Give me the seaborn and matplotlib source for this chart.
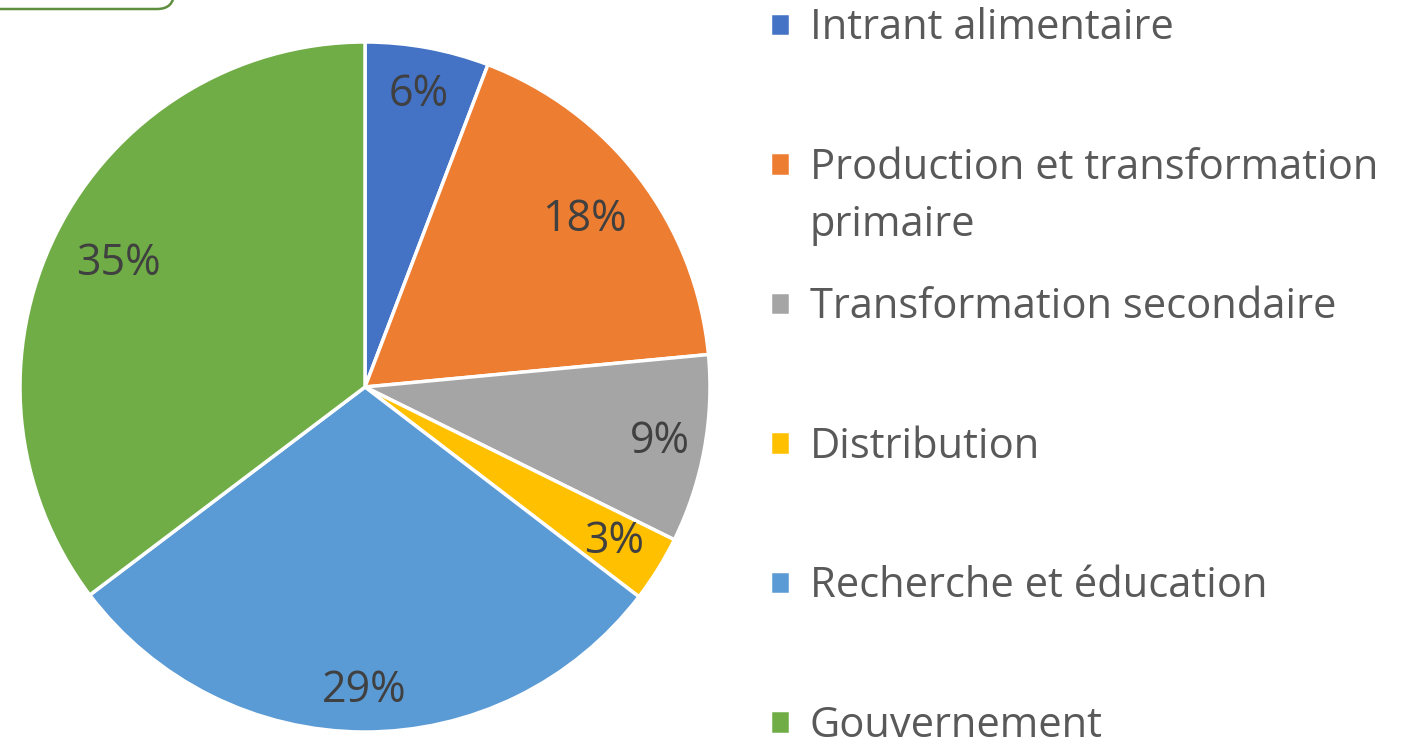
import numpy as np
import matplotlib.pyplot as plt
import seaborn as sns
from matplotlib.patches import FancyBboxPatch

sns.set_theme(style="white")
plt.rcParams['font.family'] = ['Open Sans', 'DejaVu Sans']

categories = ['Intrant alimentaire', 'Production et transformation',
              'Transformation secondaire', 'Distribution',
              'Recherche et éducation', 'Gouvernement']
wrap_line = 'primaire'   # second line of the 2nd legend entry
shares = [5.8, 17.7, 8.8, 3.1, 29.3, 35.3]
pct_labels = ['6%', '18%', '9%', '3%', '29%', '35%']
colors = ['#4472C4', '#ED7D31', '#A5A5A5', '#FFC000', '#5B9BD5', '#70AD47']

W, H = 1409, 739
fig = plt.figure(figsize=(W / 100, H / 100), dpi=100)

# pie axes: center (365, 387) px from top-left, radius 345 px
r = 345
cx, cy = 365, H - 387
ax = fig.add_axes([(cx - r) / W, (cy - r) / H, 2 * r / W, 2 * r / H])
wedges, _ = ax.pie(shares, colors=colors, startangle=90, counterclock=False,
                   radius=1, wedgeprops=dict(edgecolor='white', linewidth=2.5))
ax.set_xlim(-1, 1)
ax.set_ylim(-1, 1)
ax.axis('off')

# percentage labels inside the slices
dist = [0.86, 0.80, 0.87, 0.85, 0.88, 0.80]
for w, lab, d in zip(wedges, pct_labels, dist):
    ang = np.deg2rad((w.theta1 + w.theta2) / 2)
    ax.text(d * np.cos(ang), d * np.sin(ang), lab, ha='center', va='center',
            fontsize=31, color='#404040')

leg = fig.legend(wedges, categories, loc='upper left',
                 bbox_to_anchor=(732 / W, 1.041), frameon=False,
                 fontsize=30, labelcolor='#595959',
                 handlelength=0.5, handleheight=0.5, handletextpad=0.46,
                 labelspacing=2.34)

# hang the wrapped word under the 2nd entry, like the original legend does
fig.canvas.draw()
bb = leg.get_texts()[1].get_window_extent()
fig.text(bb.x0, bb.y0 - 57, wrap_line, fontsize=30, color='#595959',
         ha='left', va='bottom', transform=None)

# bit of a rounded green frame cut off at the top-left
box = FancyBboxPatch((-40 / W, 730 / H), 214 / W, 60 / H,
                     boxstyle='round,pad=0,rounding_size=0.012',
                     transform=fig.transFigure, facecolor='none',
                     edgecolor='#5E8E3E', linewidth=1.8, mutation_aspect=W / H)
fig.patches.append(box)

fig.savefig('out.png', dpi=100)
